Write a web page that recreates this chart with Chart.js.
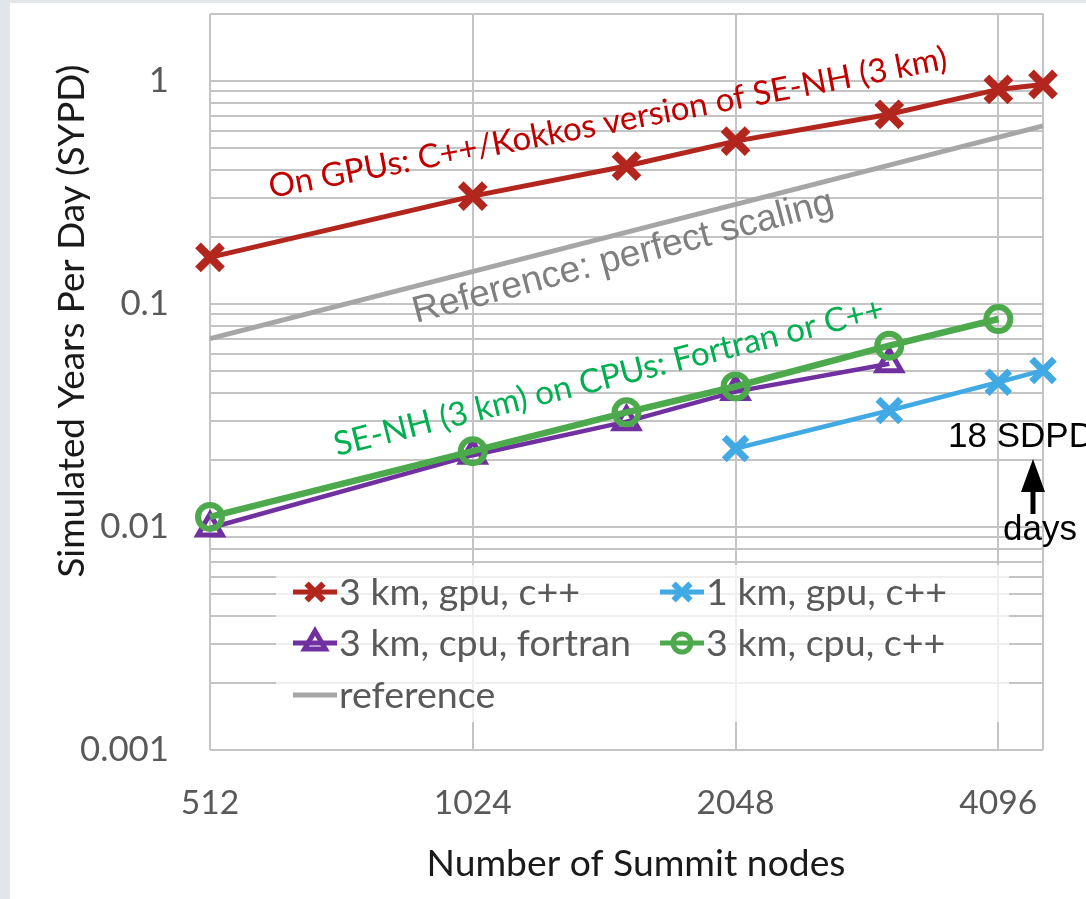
<!DOCTYPE html>
<html><head><meta charset="utf-8">
<script src="https://cdn.jsdelivr.net/npm/chart.js@4.4.1/dist/chart.umd.min.js"></script>
<style>html,body{margin:0;padding:0;background:#fff;overflow:hidden}#wrap{position:relative;width:1086px;height:899px}</style>
</head><body><div id="wrap"><canvas id="c" width="1086" height="899"></canvas></div>
<script>
// ---------- DATA ----------
const nodes3kmGpu = [512, 1024, 1536, 2048, 3072, 4096, 4608];
const sypd3kmGpu = [0.162, 0.305, 0.416, 0.538, 0.71, 0.918, 0.966];
const nodes1kmGpu = [2048, 3072, 4096, 4608];
const sypd1kmGpu = [0.0225, 0.0333, 0.0446, 0.0504];
const nodes3kmCpuFortran = [512, 1024, 1536, 2048, 3072];
const sypd3kmCpuFortran = [0.0099, 0.021, 0.0297, 0.0405, 0.054];
const nodes3kmCpuCpp = [512, 1024, 1536, 2048, 3072, 4096];
const sypd3kmCpuCpp = [0.0111, 0.0219, 0.0327, 0.0427, 0.0651, 0.0857];
const nodesReference = [512, 4608];
const sypdReference = [0.07, 0.63];
const seriesLabels = ['3 km, gpu, c++', '1 km, gpu, c++', '3 km, cpu, fortran', '3 km, cpu, c++', 'reference'];
const xTickValues = [512, 1024, 2048, 4096];
const yMajorTickValues = [0.001, 0.01, 0.1, 1];
const xRange = [512, 4608];
const yRange = [0.001, 2];
const xAxisTitle = 'Number of Summit nodes';
const yAxisTitle = 'Simulated Years Per Day (SYPD)';
const noteGpu = 'On GPUs: C++/Kokkos version of SE-NH (3 km)';
const noteRef = 'Reference: perfect scaling';
const noteCpu = 'SE-NH (3 km) on CPUs: Fortran or C++';
const noteSdpd = '18 SDPD';
const noteDays = 'days';

// ---------- helpers ----------
const zip = (xs, ys) => xs.map((x, i) => ({x: x, y: ys[i]}));
const mctx = document.createElement('canvas').getContext('2d');
function fitSize(text, family, target) {
  mctx.font = '100px ' + family;
  return 100 * target / mctx.measureText(text).width;
}
const LATO = 'Lato, Carlito, "Open Sans", sans-serif';
const ARIAL = '"Liberation Sans", Arial, sans-serif';
const yTickSize = fitSize('0.001', LATO, 89);
const xTickSize = fitSize('1024', LATO, 78);
const xTitleSize = fitSize(xAxisTitle, LATO, 419);
const yTitleSize = fitSize(yAxisTitle, LATO, 513);
const legendSize = fitSize('3 km, cpu, fortran', LATO, 292);
const gpuNoteSize = fitSize(noteGpu, LATO, 690);
const refNoteSize = fitSize(noteRef, ARIAL, 434);
const cpuNoteSize = fitSize(noteCpu, LATO, 566);
const daysSize = fitSize(noteDays, ARIAL, 74);

const yTicksAll = [];
yMajorTickValues.slice(0, 3).forEach(d => { for (let k = 1; k <= 9; k++) yTicksAll.push(Number((d * k).toPrecision(3))); });
yTicksAll.push(1);
const isMajor = v => yMajorTickValues.some(m => Math.abs(m - v) / m < 1e-6);

const RED = '#b3261e', BLUE = '#41a9e4', PURPLE = '#7030a0', GREEN = '#4caa4c', GRAY = '#a6a6a6';
const GRID = '#c4c4c4';

const datasets = [
  {label: seriesLabels[0], data: zip(nodes3kmGpu, sypd3kmGpu), borderColor: RED,
   borderWidth: 5, pointStyle: 'crossRot', pointRadius: 17, pointBorderWidth: 8, order: 2,
   legendR: 12, legendW: 6},
  {label: seriesLabels[1], data: zip(nodes1kmGpu, sypd1kmGpu), borderColor: BLUE,
   borderWidth: 4.5, pointStyle: 'crossRot', pointRadius: 16, pointBorderWidth: 7, order: 3,
   legendR: 12, legendW: 6},
  {label: seriesLabels[2], data: zip(nodes3kmCpuFortran, sypd3kmCpuFortran), borderColor: PURPLE,
   borderWidth: 4.5, pointStyle: 'triangle', pointRadius: 14, pointBorderWidth: 5, order: 4,
   legendR: 12, legendW: 5},
  {label: seriesLabels[3], data: zip(nodes3kmCpuCpp, sypd3kmCpuCpp), borderColor: GREEN,
   borderWidth: 6.5, pointStyle: 'circle', pointRadius: 12, pointBorderWidth: 6, order: 1,
   legendR: 9, legendW: 5},
  {label: seriesLabels[4], data: zip(nodesReference, sypdReference), borderColor: GRAY,
   borderWidth: 5, pointRadius: 0, order: 5, legendR: 0, legendW: 0}
];
datasets.forEach(d => {
  d.tension = 0; d.fill = false; d.clip = false; d.backgroundColor = 'rgba(0,0,0,0)';
  d.pointBackgroundColor = 'rgba(0,0,0,0)'; d.pointBorderColor = d.borderColor; d.pointHoverRadius = d.pointRadius;
});

const decor = {
  id: 'decor',
  beforeDraw(chart) {
    const ctx = chart.ctx;
    ctx.save();
    ctx.fillStyle = '#ffffff'; ctx.fillRect(0, 0, chart.width, chart.height);
    ctx.fillStyle = '#e2e5e9'; ctx.fillRect(0, 0, 10, chart.height); ctx.fillRect(0, 0, chart.width, 3);
    ctx.restore();
  },
  beforeDatasetsDraw(chart) {
    const ctx = chart.ctx, a = chart.chartArea;
    ctx.save();
    ctx.strokeStyle = GRID; ctx.lineWidth = 2;
    ctx.beginPath();
    ctx.moveTo(a.left, a.top); ctx.lineTo(a.right, a.top); ctx.lineTo(a.right, a.bottom);
    ctx.stroke();
    // legend background over gridlines
    ctx.fillStyle = 'rgba(255,255,255,0.72)';
    ctx.fillRect(a.left + 66, a.bottom - 185, a.right - a.left - 100, 157);
    ctx.restore();
  },
  afterDatasetsDraw(chart) {
    const ctx = chart.ctx, a = chart.chartArea;
    const slots = [[0, 0], [1, 0], [0, 1], [1, 1], [0, 2]];
    const colX = [a.left + 83, a.left + 450];
    const rowY = [a.bottom - 158, a.bottom - 107, a.bottom - 55];
    ctx.save();
    chart.data.datasets.forEach((ds, i) => {
      const x0 = colX[slots[i][0]], y = rowY[slots[i][1]];
      ctx.strokeStyle = ds.borderColor; ctx.lineWidth = 5; ctx.lineCap = 'butt';
      ctx.beginPath(); ctx.moveTo(x0, y); ctx.lineTo(x0 + 44, y); ctx.stroke();
      if (ds.legendR > 0) {
        ctx.fillStyle = 'rgba(0,0,0,0)'; ctx.strokeStyle = ds.borderColor; ctx.lineWidth = ds.legendW;
        Chart.helpers.drawPoint(ctx, {pointStyle: ds.pointStyle, radius: ds.legendR, borderWidth: ds.legendW, rotation: 0}, x0 + 22, y);
      }
      ctx.fillStyle = '#595959'; ctx.font = legendSize.toFixed(2) + 'px ' + LATO;
      ctx.textAlign = 'left'; ctx.textBaseline = 'middle';
      ctx.fillText(ds.label, x0 + 46, y + 1);
    });
    ctx.restore();
  },
  afterDraw(chart) {
    const ctx = chart.ctx;
    const rot = (text, x, y, deg, font, color) => {
      ctx.save(); ctx.translate(x, y); ctx.rotate(-deg * Math.PI / 180);
      ctx.font = font; ctx.fillStyle = color; ctx.textAlign = 'left'; ctx.textBaseline = 'alphabetic';
      ctx.fillText(text, 0, 0); ctx.restore();
    };
    rot(noteGpu, 271, 198, 10.8, gpuNoteSize.toFixed(2) + 'px ' + LATO, '#c00000');
    rot(noteRef, 416, 323, 14.8, refNoteSize.toFixed(2) + 'px ' + ARIAL, '#7f7f7f');
    rot(noteCpu, 337, 456, 14, cpuNoteSize.toFixed(2) + 'px ' + LATO, '#00b050');
    ctx.save();
    ctx.fillStyle = '#000';
    ctx.font = daysSize.toFixed(2) + 'px ' + ARIAL;
    ctx.textAlign = 'left'; ctx.textBaseline = 'alphabetic';
    ctx.fillText(noteSdpd, 948, 447);
    ctx.fillText(noteDays, 1003, 540);
    // arrow
    ctx.fillRect(1030.5, 488, 5, 26);
    ctx.beginPath(); ctx.moveTo(1033, 459); ctx.lineTo(1045, 492); ctx.lineTo(1021, 492); ctx.closePath(); ctx.fill();
    // axis titles
    ctx.fillStyle = '#1a1a1a';
    ctx.textAlign = 'center'; ctx.textBaseline = 'middle';
    ctx.font = xTitleSize.toFixed(2) + 'px ' + LATO;
    ctx.fillText(xAxisTitle, 636, 864);
    ctx.translate(72, 321); ctx.rotate(-Math.PI / 2);
    ctx.font = yTitleSize.toFixed(2) + 'px ' + LATO;
    ctx.fillText(yAxisTitle, 0, 0);
    ctx.restore();
  }
};

new Chart(document.getElementById('c'), {
  type: 'line',
  data: {datasets: datasets},
  options: {
    responsive: false, devicePixelRatio: 1, animation: false,
    layout: {autoPadding: false, padding: {left: 0, top: 14, right: 43, bottom: 0}},
    plugins: {legend: {display: false}, title: {display: false}, tooltip: {enabled: false}},
    scales: {
      x: {
        type: 'logarithmic', min: xRange[0], max: xRange[1],
        afterBuildTicks: s => { s.ticks = xTickValues.map(v => ({value: v})); },
        afterFit: s => { s.height = 149; s.paddingLeft = 0; s.paddingRight = 0; },
        grid: {color: GRID, lineWidth: 2, drawTicks: false},
        border: {display: false},
        ticks: {autoSkip: false, maxRotation: 0, minRotation: 0, padding: 33, color: '#595959',
                font: {family: LATO, size: xTickSize}, callback: v => String(v)}
      },
      y: {
        type: 'logarithmic', min: yRange[0], max: yRange[1],
        afterBuildTicks: s => { s.ticks = yTicksAll.map(v => ({value: v})); },
        afterFit: s => { s.width = 210; s.paddingTop = 0; s.paddingBottom = 0; },
        grid: {color: GRID, lineWidth: 2, drawTicks: false},
        border: {display: false},
        ticks: {autoSkip: false, padding: 41, color: '#595959',
                font: {family: LATO, size: yTickSize}, callback: v => isMajor(v) ? String(v) : ''}
      }
    }
  },
  plugins: [decor]
});
</script></body></html>
